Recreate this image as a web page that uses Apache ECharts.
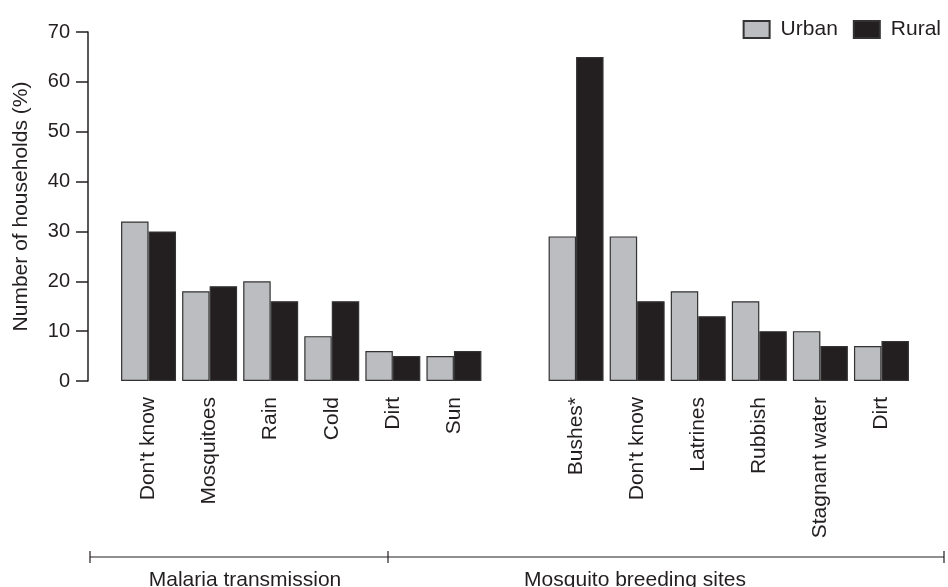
<!DOCTYPE html>
<html lang="en">
<head>
    <meta charset="UTF-8">
    <title>Malaria knowledge by household</title>
    <script src="https://cdn.jsdelivr.net/npm/echarts@6/dist/echarts.min.js"></script>
    <style>
        html, body { margin: 0; padding: 0; background: #fff; }
        #chart { width: 948px; height: 587px; }
    </style>
</head>
<body>
    <div id="chart"></div>
    <script>
        // categories (empty slot separates the two groups)
        const categories = ["Don't know", 'Mosquitoes', 'Rain', 'Cold', 'Dirt', 'Sun', '',
            'Bushes*', "Don't know", 'Latrines', 'Rubbish', 'Stagnant water', 'Dirt'];
        const urban = [32, 18, 20, 9, 6, 5, null, 29, 29, 18, 16, 10, 7];
        const rural = [30, 19, 16, 16, 5, 6, null, 65, 16, 13, 10, 7, 8];
        const groupNames = ['Malaria transmission', 'Mosquito breeding sites'];
        const yTicks = { min: 0, max: 70, interval: 10 };

        const ink = '#231f20';
        const font = 'Liberation Sans, Arial, sans-serif';

        const chart = echarts.init(document.getElementById('chart'));

        // group brackets under the axis labels
        const bracketY = 557;
        const line = (x1, y1, x2, y2) => ({
            type: 'line', shape: { x1, y1, x2, y2 }, style: { stroke: ink, lineWidth: 1.2 }
        });
        const brackets = [
            line(90, bracketY, 944, bracketY),
            line(90, bracketY - 6, 90, bracketY + 6),
            line(388, bracketY - 6, 388, bracketY + 6),
            line(944, bracketY - 6, 944, bracketY + 6),
            { type: 'text', x: 245, y: 580, style: { text: groupNames[0], fill: ink, font: '21px ' + font, align: 'center', verticalAlign: 'middle' } },
            { type: 'text', x: 635, y: 580, style: { text: groupNames[1], fill: ink, font: '21px ' + font, align: 'center', verticalAlign: 'middle' } }
        ];

        chart.setOption({
            animation: false,
            textStyle: { fontFamily: font, color: ink },
            legend: {
                top: 14,
                right: 2,
                icon: 'rect',
                itemWidth: 26,
                itemHeight: 17,
                itemGap: 15,
                textStyle: { fontSize: 21, color: ink, fontFamily: font, padding: [0, 0, 0, 6] },
                data: ['Urban', 'Rural']
            },
            grid: { left: 118, right: 36, top: 32, bottom: 206 },
            xAxis: {
                type: 'category',
                data: categories,
                axisLine: { show: false },
                axisTick: { show: false },
                axisLabel: {
                    interval: 0,
                    rotate: 90,
                    margin: 16,
                    fontSize: 21,
                    color: ink,
                    fontFamily: font
                }
            },
            yAxis: {
                type: 'value',
                min: yTicks.min,
                max: yTicks.max,
                interval: yTicks.interval,
                offset: 30,
                name: 'Number of households (%)',
                nameLocation: 'middle',
                nameRotate: 90,
                nameGap: 56,
                nameTextStyle: { fontSize: 21, color: ink, fontFamily: font },
                axisLine: { show: true, lineStyle: { color: ink, width: 1.5 } },
                axisTick: { show: true, length: 12, lineStyle: { color: ink, width: 1.5 } },
                axisLabel: { fontSize: 20, color: ink, margin: 18, fontFamily: font },
                splitLine: { show: false }
            },
            series: [
                {
                    name: 'Urban',
                    type: 'bar',
                    data: urban,
                    barGap: '0%',
                    barCategoryGap: '10%',
                    itemStyle: { color: '#bcbdc0', borderColor: '#333', borderWidth: 1.2 }
                },
                {
                    name: 'Rural',
                    type: 'bar',
                    data: rural,
                    itemStyle: { color: ink, borderColor: '#333', borderWidth: 1.2 }
                }
            ],
            graphic: brackets
        });
    </script>
</body>
</html>
